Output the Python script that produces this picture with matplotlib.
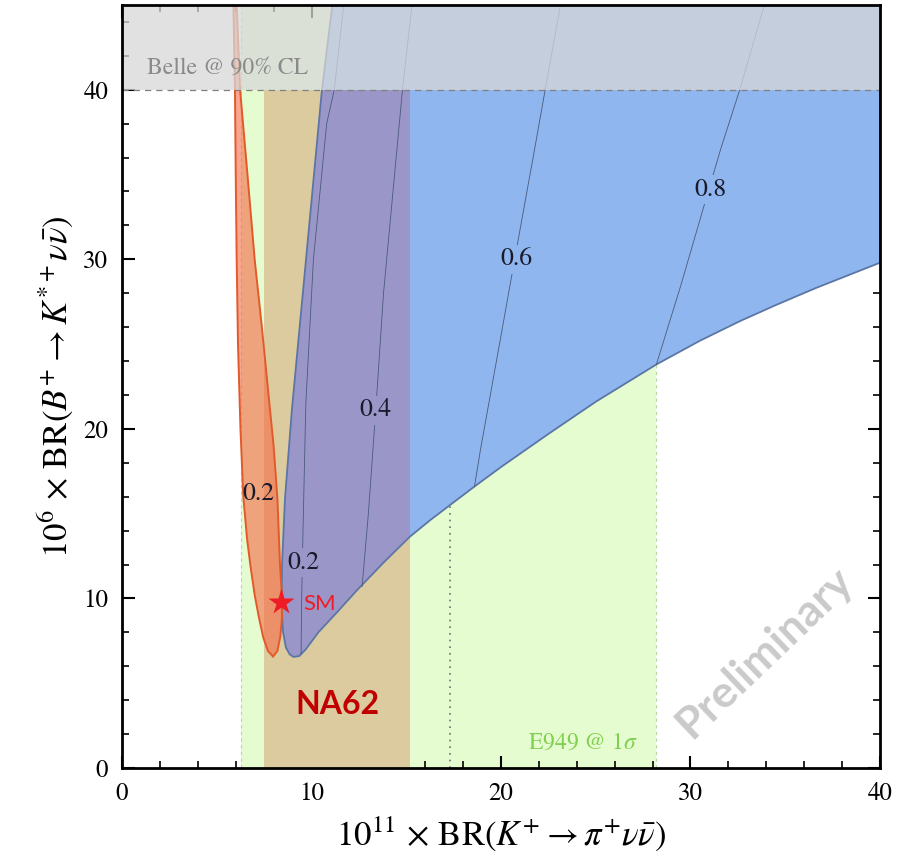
import matplotlib
matplotlib.use("Agg")
import matplotlib.pyplot as plt
from matplotlib.ticker import MultipleLocator
from matplotlib.patches import Rectangle

plt.rcParams['font.family'] = 'STIXGeneral'
plt.rcParams['mathtext.fontset'] = 'stix'

# axis ranges
x_range = (0, 40)
y_range = (0, 45)

# experimental bands
e949_band = (6.3, 28.2)      # E949 @ 1 sigma in BR(K+)
na62_band = (7.5, 15.2)      # NA62
na62_top = 40
belle_limit = 40             # Belle @ 90% CL upper bound
dotted_x = 17.3
dotted_top = 15.5

sm_point = (8.4, 9.8)

# orange region (closed outline)
orange_x = [5.88, 5.96, 6.0, 6.05, 6.12, 6.25, 6.4, 6.6, 6.78, 7.0, 7.22, 7.45, 7.7, 7.97,
            8.2, 8.36, 8.44, 8.42, 8.34, 8.2, 8.0, 7.75, 7.38, 7.0, 6.62, 6.23, 6.05]
orange_y = [45, 40, 35, 30, 25, 20, 16, 13.5, 11.9, 10.2, 8.9, 7.7, 6.9, 6.57,
            6.9, 7.8, 8.9, 10.5, 11.9, 15.9, 19.0, 21.8, 26.0, 30, 35, 40, 45]

# blue region (closed outline)
blue_x = [11.1, 10.55, 9.71, 8.97, 8.6, 8.44, 8.42, 8.5, 8.65, 8.85, 9.05, 9.35, 9.7, 10.36,
          11.36, 12.37, 13.79, 15.2, 16.3, 17.3, 18.6, 20.0, 22.5, 25.0, 28.2, 30.5, 32.6, 34.5,
          36.6, 40, 40]
blue_y = [45, 40, 30, 21.2, 15.9, 11.9, 9.5, 8.0, 7.1, 6.7, 6.55, 6.6, 7.0, 8.0,
          9.2, 10.45, 12.1, 13.65, 14.65, 15.5, 16.6, 17.75, 19.7, 21.6, 23.8, 25.2, 26.35, 27.3,
          28.3, 29.8, 45]

# contour lines inside the blue region
c02_x = [9.45, 9.48, 9.55, 9.7, 10.1, 10.8, 11.2, 11.7]
c02_y = [6.7, 10.0, 14.0, 21.5, 30.0, 38.0, 40.0, 45.0]
c04_x = [12.67, 13.0, 13.39, 13.8, 14.3, 14.8, 15.3]
c04_y = [10.7, 15.0, 21.1, 28.0, 34.0, 40.0, 45.0]
c06_x = [18.6, 18.92, 19.92, 20.72, 21.79, 22.33, 23.14]
c06_y = [16.6, 18.8, 25.0, 30.0, 36.6, 40.0, 45.0]
c08_x = [28.2, 29.5, 30.96, 31.62, 32.6, 33.9]
c08_y = [23.8, 28.5, 34.1, 36.6, 40.0, 45.0]

contour_labels = ["0.2", "0.4", "0.6", "0.8", "0.2"]
contour_label_x = [9.55, 13.39, 20.8, 31.05, 7.18]
contour_label_y = [12.1, 21.1, 30.0, 34.1, 16.15]

green = "#e5fbd0"
tan = "#ddcba0"
blue = "#8fb6ee"
purple = "#9b96c8"

fig = plt.figure(figsize=(9.12, 8.6), dpi=100)
ax = fig.add_axes([0.1338, 0.107, 0.8311, 0.8872])

# E949 band
ax.axvspan(e949_band[0], e949_band[1], color=green, zorder=1, lw=0)
for xv in e949_band:
    ax.axvline(xv, color="#b8d8a0", ls=(0, (3, 3)), lw=0.8, zorder=1.5)

# NA62 band
ax.fill_between(na62_band, 0, na62_top, color=tan, zorder=2, lw=0)

# dotted line
ax.plot([dotted_x, dotted_x], [0, dotted_top], color="#707070", ls=(0, (1, 3)), lw=1.2, zorder=2.5)

# blue region, purple where it overlaps NA62
ax.fill(blue_x, blue_y, facecolor=blue, edgecolor="none", zorder=3)
pur = ax.fill(blue_x, blue_y, facecolor=purple, edgecolor="none", zorder=3.1)[0]
clip = Rectangle((na62_band[0], 0), na62_band[1] - na62_band[0], na62_top, transform=ax.transData)
pur.set_clip_path(clip)
ax.fill(blue_x, blue_y, facecolor="none", edgecolor="#5b76a6", lw=1.3, zorder=3.2)

# orange region
ax.fill(orange_x, orange_y, facecolor=(0.96, 0.41, 0.27, 0.6), edgecolor="#e35a2a", lw=1.4, zorder=4)

# contours
for cx, cy in [(c02_x, c02_y), (c04_x, c04_y), (c06_x, c06_y), (c08_x, c08_y)]:
    ax.plot(cx, cy, color="#4a5a7a", lw=0.6, zorder=5)

label_bg = [purple, purple, blue, blue, None]
for t, lx, ly, bg in zip(contour_labels, contour_label_x, contour_label_y, label_bg):
    kw = {}
    if bg is not None:
        kw["bbox"] = dict(boxstyle="square,pad=0.1", fc=bg, ec="none")
    ax.text(lx, ly, t, fontsize=18.5, color="#1a1a2a", ha="center", va="center", zorder=6, **kw)

# Belle band
ax.axhspan(belle_limit, y_range[1], color=(0.843, 0.843, 0.843, 0.75), zorder=7, lw=0)
ax.axhline(belle_limit, color="#808080", ls=(0, (5, 4)), lw=0.9, zorder=8)
ax.text(1.32, 41.3, "Belle @ 90% CL", fontsize=17, color="#8a8a8a", ha="left", va="center", zorder=9)

# labels
ax.text(21.4, 1.5, r"E949 @ 1$\sigma$", fontsize=17, color="#7fd04c", ha="left", va="center", zorder=9)
ax.plot(*sm_point, marker="*", color="#ee1c25", markersize=20, zorder=10, mec="none")
ax.text(9.55, 9.65, "SM", fontsize=16, color="#ee1c25", family="Lato", ha="left", va="center", zorder=10)
ax.text(11.37, 3.73, "NA62", fontsize=23, color="#c00000", family="Lato", weight="bold",
        ha="center", va="center", zorder=10)
ax.text(33.9, 6.8, "Preliminary", fontsize=32, color="#cacaca", family="Lato", weight="bold",
        rotation=43.7, ha="center", va="center", zorder=10)

ax.set_xlim(*x_range)
ax.set_ylim(*y_range)
ax.xaxis.set_major_locator(MultipleLocator(10))
ax.xaxis.set_minor_locator(MultipleLocator(2))
ax.yaxis.set_major_locator(MultipleLocator(10))
ax.yaxis.set_minor_locator(MultipleLocator(2))
ax.tick_params(which="both", direction="in", top=True, right=True, labelsize=18, pad=10)
ax.tick_params(which="major", length=9, width=1.5)
ax.tick_params(which="minor", length=5, width=1.2)
for s in ax.spines.values():
    s.set_linewidth(2)
    s.set_zorder(11)

ax.set_xlabel(r"$10^{11}\,\times\,\mathrm{BR}(K^{+}\rightarrow\pi^{+}\nu\bar{\nu})$", fontsize=25, labelpad=6)
ax.set_ylabel(r"$10^{6}\,\times\,\mathrm{BR}(B^{+}\rightarrow K^{*+}\nu\bar{\nu})$", fontsize=25, labelpad=6)

fig.savefig("out.png", dpi=100)
